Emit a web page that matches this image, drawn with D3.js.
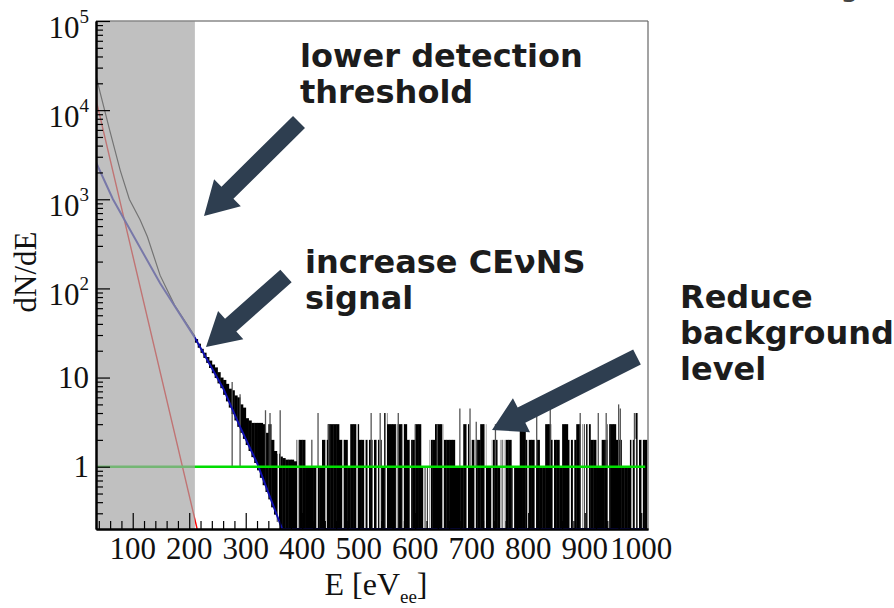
<!DOCTYPE html>
<html><head><meta charset="utf-8">
<script src="https://cdn.jsdelivr.net/npm/d3@7"></script>
<style>body{margin:0;background:#fff}svg{display:block}</style>
</head><body>
<svg id="c" width="894" height="608"></svg>
<script>
// ---------------- data ----------------
const xDomain = [35, 1012];
const yDomain = [0.2, 1e5];
const thresholdE = 210;                       // grey (below-threshold) band ends here
const xMajorTicks = [100,200,300,400,500,600,700,800,900,1000];
const yMajorTicks = [1,10,100,1000,10000,100000];
const yTickLabels = [["1",""],["10",""],["10","2"],["10","3"],["10","4"],["10","5"]];

// total spectrum below threshold (black), quenching/noise component (red), CEvNS signal (blue)
const blackE = [35, 42, 60, 78, 94, 113, 126, 148.5, 174, 210];
const blackV = [2.43e4, 1.6e4, 5.7e3, 2.1e3, 1000, 588, 380, 140, 65, 29];
const redE   = [35, 36.5, 214];
const redV   = [1.9e4, 1.2e4, 0.18];
const blueE  = [35, 65, 148.5, 210, 260, 290, 320, 364.5, 393, 1007];
const blueV  = [2600, 1000, 114, 28, 7.6, 2.8, 1.1, 0.2, 0.08, 1e-6];
const greenE = [35, 1007];
const greenV = [1, 1];

// measured histogram above threshold, 5 eV bins starting at 210 eV
const histStart = 210, binW = 5;
const histHi = [27,24,21,19,17,15.5,14,13,11.5,10,9.4,8.5,7.5,7.2,6.3,6.0,5.0,4.6,3.5,3.3,3.1,3.1,3.1,3.1,3.0,2.4,3.0,2.0,1.5,1.4,1.3,1.25,1.2,1.2,1.2,
 1.15,2,2,2,1,1,1,1,1,1,2,2,3,3,3,3,2,2,2,1,3,3,3,2,2,2,2,2,2,2,2,1,4,3,3,3,3,3,3,3,2,2,2,3,3,1,1,1,2,2,3,3,3,2,2,2,2,1,1,1,3,3,1,2,2,2,3,3,1,1,2,2,1,2,2,2,2,1,1,1,3,3,2,2,2,2,2,1,1,3,3,2,2,2,1,3,3,2,2,2,3,3,3,3,3,2,2,1,1,2,2,3,3,3,2,2,1,1,1,2,2,4,2,2,2];
const histLo = [24.6,21.6,18.9,16.6,14.6,12.8,11.2,9.9,8.6,7.6,6.4,5.4,4.6,3.9,3.3,2.8,2.4,2.05,1.75,1.5,1.28,1.1,0.91,0.75,0.62,0.52,0.43,0.35,0.29,0.24,0.2,0.2];
// narrow single-bin spikes [E, counts]
const spikeE = [276,290,335,343,361,417,428,447,522,538,570,600,639,679,697,708,742,815,839,892,924,938,960,963,988];
const spikeV = [8.9,6.5,4.3,4.0,4.3,2,4,3,4,4,4,3,3,4.5,4.5,3.2,3,4,5,4,4,4,5,4.5,4];
// narrow empty bins (white gaps)
const emptyE = [357.6,392.4,426.3,442.2,472.1,497,510.9,516.9,525.8,532.8,537.8,548.7,567.6,578.6,591.5,615.4,619.4,623.4,626.4,649.3,692.1,706,723.9,735.9,751.8,755.7,758.7,773.7,799.6,812.6,844.4,874.3,880.3,894.2,897.2,901.2,906.2,942,983.8,989.8,994.8,1001.7];

// annotations
const notes = [
  {lines:["lower detection","threshold"], x:300, y:67},
  {lines:["increase CE\u03bdNS","signal"], x:305, y:273},
  {lines:["Reduce","background","level"], x:680, y:308}
];
const arrows = [
  {from:[299,122], to:[204,216]},
  {from:[286,276], to:[206,347]},
  {from:[637,357], to:[492,430]}
];

// ---------------- drawing ----------------
const svg = d3.select("#c");
const L = 96, R = 648, T = 21, B = 529;
const x = d3.scaleLinear().domain(xDomain).range([L, R]);
const y = d3.scaleLog().domain(yDomain).range([B, T]).clamp(true);

svg.append("defs").append("clipPath").attr("id","clip")
  .append("rect").attr("x",L).attr("y",T).attr("width",R-L).attr("height",B-T);
const g = svg.append("g").attr("clip-path","url(#clip)");

const bins = histHi.map((h,i)=>({x0:histStart+i*binW, x1:histStart+(i+1)*binW, hi:h,
  lo: i < histLo.length ? histLo[i] : yDomain[0]}));
g.selectAll("rect.bin").data(bins).join("rect").attr("class","bin")
  .attr("x",d=>x(d.x0)).attr("width",d=>x(d.x1)-x(d.x0)+0.4)
  .attr("y",d=>y(d.hi)).attr("height",d=>Math.max(1,y(d.lo)-y(d.hi)))
  .attr("fill","#000");

const binOf = e => bins[Math.max(0,Math.min(bins.length-1,Math.floor((e-histStart)/binW)))];
g.selectAll("rect.gap").data(emptyE).join("rect").attr("class","gap")
  .attr("x",d=>x(d)-0.7).attr("width",1.4)
  .attr("y",d=>y(binOf(d).hi)-1).attr("height",d=>y(yDomain[0])-y(binOf(d).hi)+1)
  .attr("fill","#fff");

g.selectAll("line.spike").data(spikeE).join("line").attr("class","spike")
  .attr("x1",d=>x(d)).attr("x2",d=>x(d))
  .attr("y1",y(1)).attr("y2",(d,i)=>y(spikeV[i]))
  .attr("stroke","#555").attr("stroke-width",1.3);

const line = d3.line().x(d=>x(d[0])).y(d=>y(d[1]));
const zip = (a,b)=>a.map((v,i)=>[v,b[i]]);
g.append("path").attr("d",line(zip(blackE,blackV))).attr("fill","none").attr("stroke","#000").attr("stroke-width",1.2);
g.append("path").attr("d",line(zip(redE,redV))).attr("fill","none").attr("stroke","#ff0000").attr("stroke-width",1.4);
g.append("path").attr("d",line(zip(blueE,blueV))).attr("fill","none").attr("stroke","#1010b0").attr("stroke-width",2);
g.append("path").attr("d",line(zip(greenE,greenV))).attr("fill","none").attr("stroke","#00dd00").attr("stroke-width",2.6);

// grey below-threshold band (translucent)
svg.append("rect").attr("x",x(xDomain[0])).attr("y",T).attr("width",x(thresholdE)-x(xDomain[0])).attr("height",B-T)
  .attr("fill","#a5a5a5").attr("opacity",0.7);

// frame
svg.append("line").attr("x1",L).attr("x2",R).attr("y1",T).attr("y2",T).attr("stroke","#888").attr("stroke-width",1.5);
svg.append("line").attr("x1",R).attr("x2",R).attr("y1",T).attr("y2",B).attr("stroke","#666").attr("stroke-width",1.2);

// axes (ticks inward)
const xMinor = d3.range(40,1011,20).filter(v=>v%100!==0);
const ax = svg.append("g").attr("transform",`translate(0,${B})`);
ax.call(d3.axisBottom(x).tickValues(xMinor).tickSize(-8).tickSizeOuter(0).tickFormat(""));
ax.append("g").call(d3.axisBottom(x).tickValues(xMajorTicks).tickSize(-16).tickSizeOuter(0).tickFormat(""));
ax.selectAll("path.domain").attr("stroke","#000").attr("stroke-width",2);
ax.selectAll(".tick line").attr("stroke","#000").attr("stroke-width",1.2);

const yMinor = [];
[0.1,1,10,100,1000,10000].forEach(dec=>{for(let k=2;k<=9;k++){const v=k*dec; if(v>=0.3 && v<1e5) yMinor.push(v);}});
const ay = svg.append("g").attr("transform",`translate(${L},0)`);
ay.call(d3.axisLeft(y).tickValues(yMinor).tickSize(-7).tickSizeOuter(0).tickFormat(""));
ay.append("g").call(d3.axisLeft(y).tickValues(yMajorTicks).tickSize(-14).tickSizeOuter(0).tickFormat(""));
ay.selectAll("path.domain").attr("stroke","#000").attr("stroke-width",2);
ay.selectAll(".tick line").attr("stroke","#000").attr("stroke-width",1.2);

// tick labels
const serif = "'Liberation Serif','Times New Roman',serif";
svg.append("g").selectAll("text").data(xMajorTicks).join("text")
  .attr("x",d=>x(d)).attr("y",559).attr("text-anchor","middle")
  .attr("font-family",serif).attr("font-size",31).attr("fill","#111").text(d=>d);

const yl = svg.append("g").selectAll("text").data(yMajorTicks).join("text")
  .attr("x",89).attr("y",(d,i)=>y(d)+(yTickLabels[i][1]?17:10)).attr("text-anchor","end")
  .attr("font-family",serif).attr("font-size",31).attr("fill","#111");
yl.append("tspan").text((d,i)=>yTickLabels[i][0]);
yl.append("tspan").attr("font-size",19).attr("dy",-15).text((d,i)=>yTickLabels[i][1]);

// axis titles
svg.append("text").attr("transform","translate(36,272) rotate(-90)").attr("text-anchor","middle")
  .attr("font-family",serif).attr("font-size",31).attr("fill","#111").text("dN/dE");
const xt = svg.append("text").attr("x",376).attr("y",595).attr("text-anchor","middle")
  .attr("font-family",serif).attr("font-size",32).attr("fill","#111");
xt.append("tspan").text("E [eV");
xt.append("tspan").attr("font-size",19).attr("dy",8).text("ee");
xt.append("tspan").attr("dy",-8).text("]");

// annotation arrows
function arrowPoly(a,b,sw=17,hw=38,hl=33){
  const dx=b[0]-a[0], dy=b[1]-a[1], len=Math.hypot(dx,dy), ux=dx/len, uy=dy/len, px=-uy, py=ux;
  const bx=b[0]-ux*hl, by=b[1]-uy*hl;
  return [[a[0]+px*sw/2,a[1]+py*sw/2],[bx+px*sw/2,by+py*sw/2],[bx+px*hw/2,by+py*hw/2],b,
          [bx-px*hw/2,by-py*hw/2],[bx-px*sw/2,by-py*sw/2],[a[0]-px*sw/2,a[1]-py*sw/2]];
}
svg.append("g").selectAll("polygon").data(arrows).join("polygon")
  .attr("points",d=>arrowPoly(d.from,d.to).map(p=>p.join(",")).join(" "))
  .attr("fill","#2e3e50");

// annotation text
const sans = "'DejaVu Sans',Verdana,sans-serif";
notes.forEach(n=>{
  n.lines.forEach((t,i)=>{
    svg.append("text").attr("x",n.x).attr("y",n.y+i*36).attr("font-family",sans)
      .attr("font-weight","bold").attr("font-size",32).attr("fill","#1c1c1c").text(t);
  });
});
// partially visible title text at the top edge
svg.append("text").attr("x",840).attr("y",-4).attr("font-family",sans).attr("font-size",30).attr("fill","#444").text("g");
</script>
</body></html>
